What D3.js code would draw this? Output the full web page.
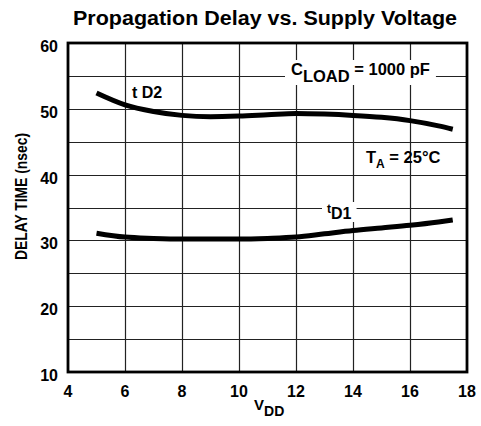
<!DOCTYPE html>
<html>
<head>
<meta charset="utf-8">
<script src="https://cdn.jsdelivr.net/npm/d3@7"></script>
<style>
  body { margin: 0; background: #fff; }
  text { font-family: "Liberation Sans", Arial, sans-serif; font-weight: bold; fill: #000; }
</style>
</head>
<body>
<div id="chart"></div>
<script>
'use strict';

// data
const vdd = [5, 6, 7, 8, 9, 10, 11, 12, 13, 14, 15, 16, 17, 17.5];
const tD2 = [52.4, 50.6, 49.6, 49.0, 48.8, 48.9, 49.1, 49.3, 49.2, 49.0, 48.7, 48.2, 47.4, 46.9];
const tD1 = [31.1, 30.5, 30.3, 30.2, 30.2, 30.2, 30.3, 30.5, 31.0, 31.5, 31.9, 32.3, 32.8, 33.1];
const xTicks = [4, 6, 8, 10, 12, 14, 16, 18];
const yTicks = [10, 20, 30, 40, 50, 60];
const yGrid = [15, 20, 25, 30, 35, 40, 45, 50, 55];

const width = 481, height = 426;
const margin = { left: 68, right: 14, top: 43, bottom: 54 };

const svg = d3.select('#chart').append('svg')
    .attr('width', width)
    .attr('height', height);

const x = d3.scaleLinear().domain([4, 18]).range([margin.left, width - margin.right]);
const y = d3.scaleLinear().domain([10, 60]).range([height - margin.bottom, margin.top]);

// title
svg.append('text')
    .attr('x', 73).attr('y', 25)
    .attr('textLength', 384)
    .attr('lengthAdjust', 'spacingAndGlyphs')
    .style('font-size', '19.5px')
    .text('Propagation Delay vs. Supply Voltage');

// grid
const grid = svg.append('g');
yGrid.forEach(v => {
    grid.append('line')
        .attr('x1', x(4)).attr('x2', x(18))
        .attr('y1', Math.round(y(v)) + 0.5).attr('y2', Math.round(y(v)) + 0.5)
        .style('stroke', '#222').style('stroke-width', '1.2px');
});
xTicks.slice(1, -1).forEach(v => {
    grid.append('line')
        .attr('x1', Math.round(x(v)) + 0.5).attr('x2', Math.round(x(v)) + 0.5)
        .attr('y1', y(10)).attr('y2', y(60))
        .style('stroke', '#222').style('stroke-width', '1.2px');
});

// tick labels
svg.append('g').selectAll('text').data(yTicks).enter().append('text')
    .attr('x', 58).attr('y', d => y(d) + 9)
    .attr('text-anchor', 'end')
    .style('font-size', '16px')
    .text(d => d);
svg.append('g').selectAll('text').data(xTicks).enter().append('text')
    .attr('x', d => x(d)).attr('y', 397)
    .attr('text-anchor', 'middle')
    .style('font-size', '16px')
    .text(d => d);

// axis titles
const xt = svg.append('text')
    .attr('x', 254).attr('y', 410)
    .style('font-size', '15px');
xt.append('tspan').text('V');
xt.append('tspan').attr('dy', 6).style('font-size', '14px').text('DD');

svg.append('text')
    .attr('transform', 'translate(27,' + 196.5 + ') rotate(-90)')
    .attr('text-anchor', 'middle')
    .attr('textLength', 127)
    .attr('lengthAdjust', 'spacingAndGlyphs')
    .style('font-size', '16px')
    .text('DELAY TIME (nsec)');

// curves
const line = d3.line()
    .x((d, i) => x(vdd[i]))
    .y(d => y(d))
    .curve(d3.curveMonotoneX);

svg.append('path').datum(tD2)
    .attr('d', line)
    .attr('fill', 'none').attr('stroke', '#000').attr('stroke-width', 5);
svg.append('path').datum(tD1)
    .attr('d', line)
    .attr('fill', 'none').attr('stroke', '#000').attr('stroke-width', 5);

// labels with white backing
function label(px, py, parts, size, pad) {
    const g = svg.append('g');
    const bg = g.append('rect').attr('fill', '#fff');
    const t = g.append('text').attr('x', px).attr('y', py).style('font-size', size);
    parts.forEach(p => {
        const s = t.append('tspan').text(p.text);
        if (p.dy) s.attr('dy', p.dy);
        if (p.size) s.style('font-size', p.size);
    });
    if (pad != null) {
        const b = t.node().getBBox();
        bg.attr('x', b.x - pad).attr('y', b.y).attr('width', b.width + 2 * pad).attr('height', b.height);
    }
}

label(132, 98, [{ text: 't D2' }], '16px');
label(327, 213, [{ text: 't', size: '12px' }, { text: 'D1', dy: 6 }], '16px', 5);
label(291, 75, [{ text: 'C' }, { text: 'LOAD', dy: 7 }, { text: ' = 1000 pF', dy: -7 }], '16.5px', 6);
label(366, 163, [{ text: 'T' }, { text: 'A', dy: 5, size: '12px' }, { text: ' = 25°C', dy: -5 }], '16.5px');

// frame
svg.append('rect')
    .attr('x', x(4)).attr('y', y(60))
    .attr('width', x(18) - x(4)).attr('height', y(10) - y(60))
    .attr('fill', 'none').attr('stroke', '#000').attr('stroke-width', 2.8);
</script>
</body>
</html>
